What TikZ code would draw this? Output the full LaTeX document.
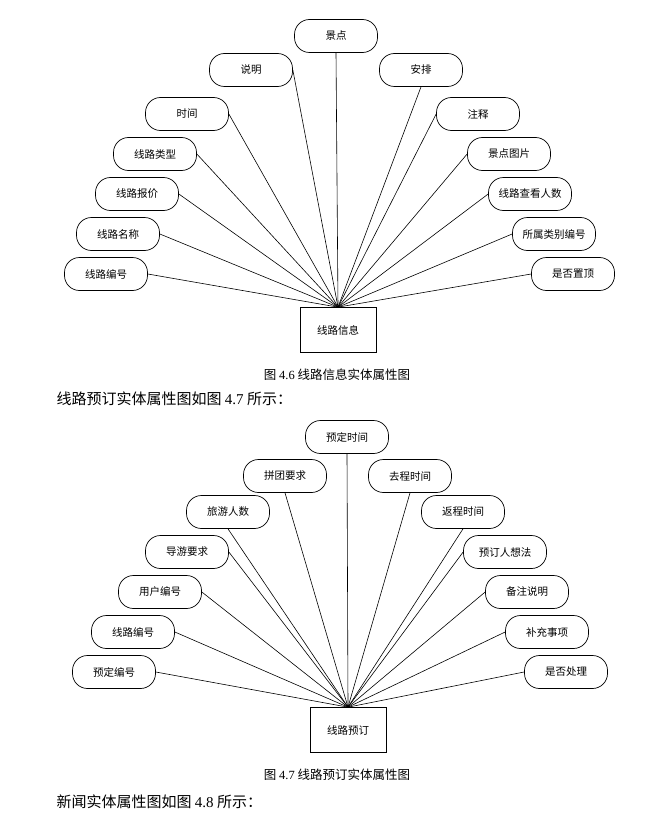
\documentclass[tikz,border=0pt]{standalone}
\usepackage{fontspec}
\setmainfont{Liberation Serif}
\newfontfamily\cjk{Noto Sans CJK SC}

\begin{document}
\begin{tikzpicture}[x=1pt,y=-1pt, every node/.style={font=\cjk\fontsize{10.5}{12}\selectfont},
  attr/.style={draw, line width=0.7pt, rounded corners=15pt, minimum width=83pt, minimum height=33pt, inner sep=0pt},
  entity/.style={draw, line width=0.7pt, minimum width=76pt, minimum height=45pt, inner sep=0pt},
  link/.style={line width=0.6pt}]
  \useasboundingbox[fill=white] (0,0) rectangle (665,840);

  % Fig 4.6
  \node[attr] (scenic) at (336,36) {景点};
  \node[attr] (remark) at (251,70) {说明};
  \node[attr] (arrange) at (421,70) {安排};
  \node[attr] (time) at (187,114) {时间};
  \node[attr] (note) at (478,114) {注释};
  \node[attr] (type) at (155,154) {线路类型};
  \node[attr] (photo) at (509,154) {景点图片};
  \node[attr] (price) at (137,194) {线路报价};
  \node[attr] (views) at (530,194) {线路查看人数};
  \node[attr] (name) at (118,234) {线路名称};
  \node[attr] (category) at (554,234) {所属类别编号};
  \node[attr] (rid) at (106,274) {线路编号};
  \node[attr] (stick) at (573,274) {是否置顶};
  \node[entity] (route) at (338,330) {线路信息};
  \draw[link] (scenic.south) -- (route.north);
  \draw[link] (remark.east) -- (route.north);
  \draw[link] (arrange.south) -- (route.north);
  \draw[link] (time.east) -- (route.north);
  \draw[link] (note.west) -- (route.north);
  \draw[link] (type.east) -- (route.north);
  \draw[link] (photo.west) -- (route.north);
  \draw[link] (price.east) -- (route.north);
  \draw[link] (views.west) -- (route.north);
  \draw[link] (name.east) -- (route.north);
  \draw[link] (category.west) -- (route.north);
  \draw[link] (rid.east) -- (route.north);
  \draw[link] (stick.west) -- (route.north);
  \node (cap46) at (337,375) {\fontsize{12.5}{15}\selectfont 图 {\rmfamily 4.6} 线路信息实体属性图};
  \node[anchor=west] (intro47) at (53,399) {\fontsize{15}{18}\selectfont 线路预订实体属性图如图 {\rmfamily 4.7} 所示：};

  % Fig 4.7
  \node[attr] (btime) at (347,437) {预定时间};
  \node[attr] (group) at (285,476) {拼团要求};
  \node[attr] (gotime) at (410,476) {去程时间};
  \node[attr] (people) at (228,512) {旅游人数};
  \node[attr] (backtime) at (463,512) {返程时间};
  \node[attr] (guide) at (187,552) {导游要求};
  \node[attr] (idea) at (505,552) {预订人想法};
  \node[attr] (user) at (160,592) {用户编号};
  \node[attr] (memo) at (527,592) {备注说明};
  \node[attr] (rno) at (133,632) {线路编号};
  \node[attr] (extra) at (547,632) {补充事项};
  \node[attr] (bno) at (114,672) {预定编号};
  \node[attr] (handled) at (566,672) {是否处理};
  \node[entity] (booking) at (348,730) {线路预订};
  \draw[link] (btime.south) -- (booking.north);
  \draw[link] (group.south) -- (booking.north);
  \draw[link] (gotime.south) -- (booking.north);
  \draw[link] (people.south) -- (booking.north);
  \draw[link] (backtime.south) -- (booking.north);
  \draw[link] (guide.east) -- (booking.north);
  \draw[link] (idea.west) -- (booking.north);
  \draw[link] (user.east) -- (booking.north);
  \draw[link] (memo.west) -- (booking.north);
  \draw[link] (rno.east) -- (booking.north);
  \draw[link] (extra.west) -- (booking.north);
  \draw[link] (bno.east) -- (booking.north);
  \draw[link] (handled.west) -- (booking.north);
  \node (cap47) at (337,775) {\fontsize{12.5}{15}\selectfont 图 {\rmfamily 4.7} 线路预订实体属性图};
  \node[anchor=west] (intro48) at (53,802) {\fontsize{15}{18}\selectfont 新闻实体属性图如图 {\rmfamily 4.8} 所示：};
\end{tikzpicture}
\end{document}
